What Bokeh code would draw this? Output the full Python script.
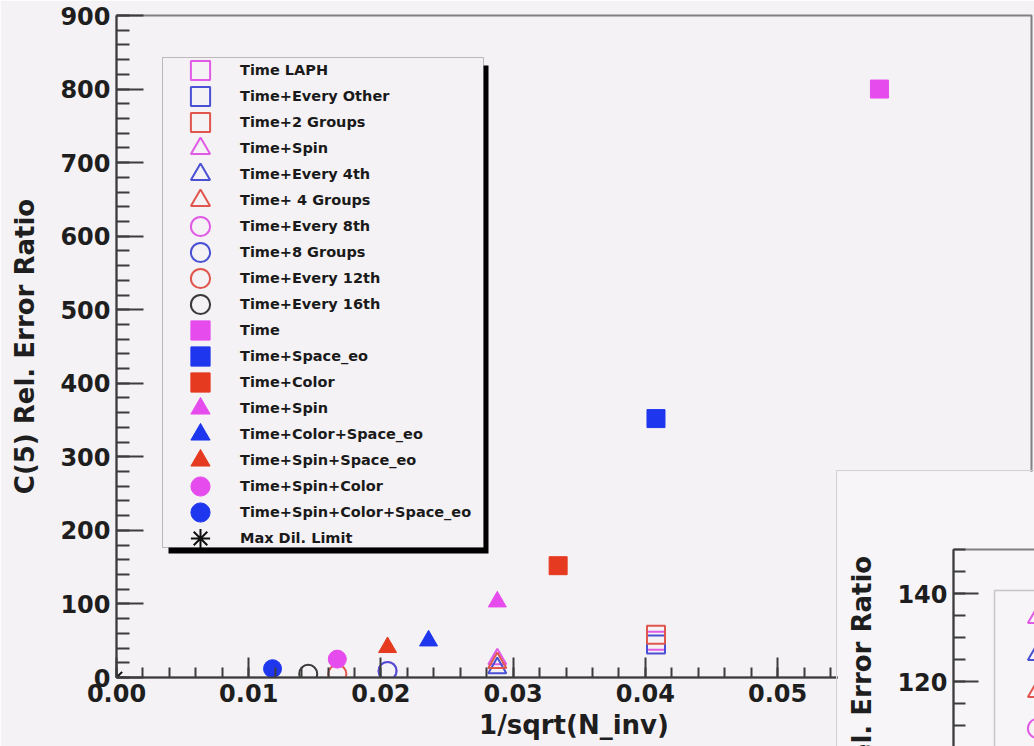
from bokeh.plotting import figure
from bokeh.layouts import column
from bokeh.core.properties import value
from bokeh.models import (Range1d, SingleIntervalTicker, PrintfTickFormatter, Legend, LegendItem,
                          BoxAnnotation)
from bokeh.embed import file_html
from bokeh.resources import INLINE

# ---------------- data ----------------
labels = ["Time LAPH", "Time+Every Other", "Time+2 Groups", "Time+Spin", "Time+Every 4th",
          "Time+ 4 Groups", "Time+Every 8th", "Time+8 Groups", "Time+Every 12th", "Time+Every 16th",
          "Time", "Time+Space_eo", "Time+Color", "Time+Spin", "Time+Color+Space_eo",
          "Time+Spin+Space_eo", "Time+Spin+Color", "Time+Spin+Color+Space_eo", "Max Dil. Limit"]
x_vals = [0.0408, 0.0408, 0.0408, 0.0288, 0.0288, 0.0288, 0.0205, 0.0205, 0.0167, 0.0145,
          0.0577, 0.0408, 0.0334, 0.0288, 0.0236, 0.0205, 0.0167, 0.0118, 0.0]
y_vals = [50, 45, 58, 25, 13, 20, 9, 9, 5, 5,
          800, 352, 152, 103, 50, 41, 25, 12, 0]
markers = ["square", "square", "square", "triangle", "triangle", "triangle",
           "circle", "circle", "circle", "circle",
           "square", "square", "square", "triangle", "triangle", "triangle",
           "circle", "circle", "asterisk"]
colors = ["#e05ae6", "#4a50d4", "#e0564e", "#e05ae6", "#4a50d4", "#e0564e",
          "#e05ae6", "#4a50d4", "#e0564e", "#3a3a3a",
          "#e64ced", "#1e37ee", "#e63a20", "#e64ced", "#1e37ee", "#e63a20",
          "#e64ced", "#1e37ee", "#111111"]
filled = [False] * 10 + [True] * 8 + [False]
inset_series = [3, 4, 5, 6, 7, 8]

y_ticks_main = (0, 900, 100)
x_ticks_main = (0.0, 0.0692, 0.01)
inset_y = (80, 150, 20)
inset_x = (0.0, 0.0062)

BG = "#f5f2f5"
BG2 = "#f7f5f8"
FONT = "DejaVu Sans"
AX = "#3c3c3c"


def style_axis(ax, major_in, minor_in):
    ax.axis_line_color = AX
    ax.axis_line_width = 2
    ax.major_tick_in = major_in
    ax.major_tick_out = 0
    ax.minor_tick_in = minor_in
    ax.minor_tick_out = 0
    ax.major_tick_line_color = AX
    ax.major_tick_line_width = 2
    ax.minor_tick_line_color = AX
    ax.minor_tick_line_width = 2
    ax.major_label_text_font = FONT
    ax.major_label_text_font_style = "bold"
    ax.major_label_text_font_size = "24px"
    ax.major_label_text_color = "#1e1e1e"
    ax.axis_label_text_font = FONT
    ax.axis_label_text_font_style = "bold"
    ax.axis_label_text_font_size = "26px"
    ax.axis_label_text_color = "#1e1e1e"
    ax.major_label_standoff = 6


def single_legend(label, renderer, x, y):
    return Legend(items=[LegendItem(label=value(label), renderers=[renderer])],
                  location=(x, y), orientation="vertical",
                  glyph_width=48, glyph_height=48, label_height=20, label_standoff=16,
                  spacing=0, padding=0, margin=0,
                  border_line_color=None, background_fill_alpha=0,
                  label_text_font=FONT, label_text_font_style="bold",
                  label_text_font_size="14.5px", label_text_color="#1a1a1a")


# ---------------- main figure ----------------
p = figure(width=1034, height=746,
           x_range=Range1d(x_ticks_main[0], x_ticks_main[1]),
           y_range=Range1d(y_ticks_main[0], y_ticks_main[1]),
           output_backend="svg", toolbar_location=None,
           min_border_left=116, min_border_right=3, min_border_top=15, min_border_bottom=69,
           background_fill_color=BG, border_fill_color=BG)
p.xgrid.visible = False
p.ygrid.visible = False
p.outline_line_color = "#808080"
p.outline_line_width = 2
p.styles = {"position": "absolute", "left": "0px", "top": "0px"}

p.xaxis.ticker = SingleIntervalTicker(interval=x_ticks_main[2], num_minor_ticks=5)
p.xaxis.formatter = PrintfTickFormatter(format="%.2f")
p.yaxis.ticker = SingleIntervalTicker(interval=y_ticks_main[2], num_minor_ticks=5)
for ax in p.xaxis:
    style_axis(ax, 20, 10)
    ax.axis_label = "1/sqrt(N_inv)"
    ax.axis_label_standoff = 5
for ax in p.yaxis:
    style_axis(ax, 27, 13)
    ax.axis_label = "C(5) Rel. Error Ratio"
    ax.axis_label_standoff = 17

renderers = []
for lab, xv, yv, mk, col, fl in zip(labels, x_vals, y_vals, markers, colors, filled):
    r = p.scatter(x=[xv], y=[yv], marker=mk, size=18 if mk != "asterisk" else 16,
                  line_color=col, fill_color=col if fl else None,
                  line_width=1 if fl else 2)
    renderers.append(r)

# legend panel (background + shadow) drawn behind the legend entries
shadow = BoxAnnotation(left=52, right=372, top=612, bottom=124,
                       left_units="screen", right_units="screen",
                       top_units="screen", bottom_units="screen",
                       fill_color="#000000", fill_alpha=1, line_color=None)
panel = BoxAnnotation(left=46, right=367, top=620, bottom=130,
                      left_units="screen", right_units="screen",
                      top_units="screen", bottom_units="screen",
                      fill_color=BG, fill_alpha=1, line_color="#333333", line_width=1)
p.add_layout(shadow)
p.add_layout(panel)

ROW0, PITCH = 607, 26   # first row centre (px above frame bottom) and row pitch
for i, (lab, r) in enumerate(zip(labels, renderers)):
    p.add_layout(single_legend(lab, r, 60, ROW0 - PITCH * i - 24))

# ---------------- inset figure (overlapping, cropped by the page frame) ----------------
p2 = figure(width=205, height=455,
            x_range=Range1d(inset_x[0], inset_x[1]),
            y_range=Range1d(inset_y[0], inset_y[1]),
            output_backend="svg", toolbar_location=None, x_axis_location=None,
            min_border_left=115, min_border_right=0, min_border_top=78, min_border_bottom=69,
            background_fill_color=BG2, border_fill_color=BG2)
p2.xgrid.visible = False
p2.ygrid.visible = False
p2.outline_line_color = "#808080"
p2.outline_line_width = 2
p2.styles = {"position": "absolute", "left": "836px", "top": "470px", "z-index": "10",
             "border-left": "1px solid #d2d2d2", "border-top": "1px solid #d2d2d2"}
p2.yaxis.ticker = SingleIntervalTicker(interval=inset_y[2], num_minor_ticks=4)
for ax in p2.yaxis:
    style_axis(ax, 25, 12)
    ax.axis_label = "C(5) Rel. Error Ratio"
    ax.axis_label_standoff = 17

panel2 = BoxAnnotation(left=41, right=300, top=267, bottom=-60,
                       left_units="screen", right_units="screen",
                       top_units="screen", bottom_units="screen",
                       fill_color=BG2, fill_alpha=1, line_color="#555555", line_width=1.5)
p2.add_layout(panel2)

IROW0, IPITCH = 240, 37
for k, i in enumerate(inset_series):
    r = p2.scatter(x=[x_vals[i]], y=[y_vals[i]], marker=markers[i], size=18,
                   line_color=colors[i], fill_color=colors[i] if filled[i] else None,
                   line_width=1 if filled[i] else 2)
    p2.add_layout(single_legend(labels[i], r, 60, IROW0 - IPITCH * k - 24))

layout = column(p, p2, width=1034, height=746,
                styles={"position": "relative", "overflow": "hidden"})
open("out.html", "w").write(file_html(layout, INLINE))
